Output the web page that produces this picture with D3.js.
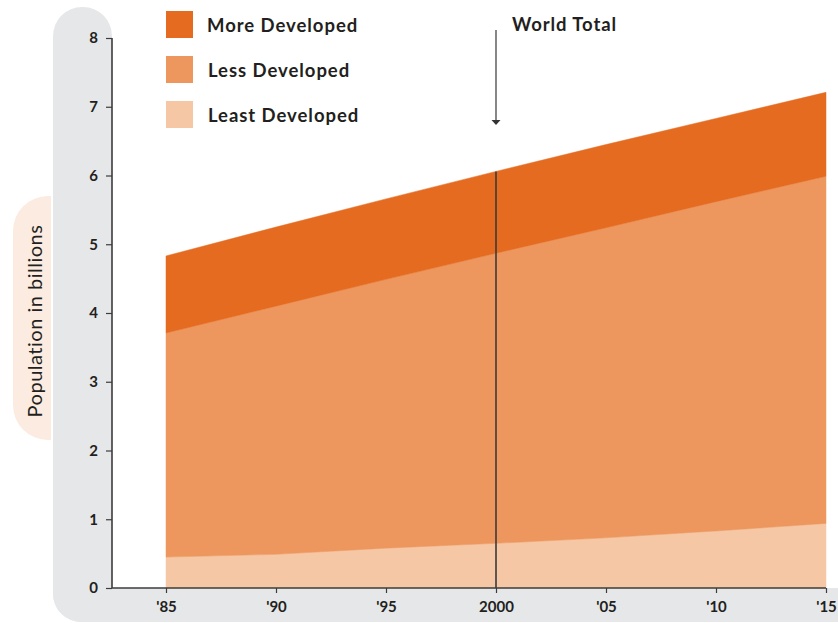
<!DOCTYPE html>
<html><head><meta charset="utf-8">
<script src="https://cdn.jsdelivr.net/npm/d3@7/dist/d3.min.js"></script>
<style>body{margin:0;background:#fff}svg{display:block}text{font-family:Lato,"Noto Sans",sans-serif;fill:#231f20}</style>
</head><body><svg id="c" width="838" height="623"></svg>
<script>
const years = [1985, 1990, 1995, 2000, 2005, 2010, 2015];
const leastDeveloped = [0.45, 0.49, 0.58, 0.65, 0.73, 0.83, 0.94];
const lessDeveloped = [3.26, 3.61, 3.91, 4.22, 4.51, 4.79, 5.05];
const moreDeveloped = [1.12, 1.15, 1.17, 1.19, 1.21, 1.21, 1.22];
const seriesNames = ["Least Developed", "Less Developed", "More Developed"];
const legendOrder = ["More Developed", "Less Developed", "Least Developed"];
const xTickValues = [1985, 1990, 1995, 2000, 2005, 2010, 2015];
const xTickLabels = ["'85", "'90", "'95", "2000", "'05", "'10", "'15"];
const yTickValues = [0, 1, 2, 3, 4, 5, 6, 7, 8];
const markerYear = 2000;

const colors = {"More Developed": "#e46b20", "Less Developed": "#ed975e", "Least Developed": "#f5c7a5"};
const svg = d3.select("#c");

// background shapes
svg.append("rect").attr("x", 53).attr("y", 7).attr("width", 59).attr("height", 615).attr("rx", 29).attr("fill", "#e6e7e9");
svg.append("rect").attr("x", 53).attr("y", 560).attr("width", 830).attr("height", 62).attr("rx", 28).attr("fill", "#e6e7e9");
svg.append("rect").attr("x", 112).attr("y", 0).attr("width", 726).attr("height", 588).attr("fill", "#fff");
svg.append("path").attr("d", "M51,196 L51,440 L48,440 A35,35 0 0 1 13,405 L13,231 A35,35 0 0 1 48,196 Z").attr("fill", "#fbebe0");

const x = d3.scaleLinear().domain([1985, 2015]).range([166, 826]);
const y = d3.scaleLinear().domain([0, 8]).range([588, 38]);

const table = years.map((yr, i) => ({year: yr, "Least Developed": leastDeveloped[i], "Less Developed": lessDeveloped[i], "More Developed": moreDeveloped[i]}));
const stack = d3.stack().keys(seriesNames)(table);
const area = d3.area().x(d => x(d.data.year)).y0(d => y(d[0])).y1(d => y(d[1]));
svg.append("g").selectAll("path").data(stack).join("path")
  .attr("d", area).attr("fill", d => colors[d.key]).attr("stroke", d => colors[d.key]).attr("stroke-width", 0.5);

// axes
const yAxis = d3.axisLeft(y).tickValues(yTickValues).tickSize(6).tickPadding(8).tickFormat(d3.format("d"));
const gy = svg.append("g").attr("transform", "translate(112,0)").call(yAxis);
gy.select(".domain").attr("stroke", "#3c3c3c").attr("stroke-width", 1.6).attr("d", `M0,${y(8)}V${y(0)}`);
gy.selectAll(".tick line").attr("stroke", "#3c3c3c").attr("stroke-width", 1.2);
gy.selectAll(".tick text").style("font-size", "15px").style("font-weight", "bold").attr("fill", "#231f20");

const xAxis = d3.axisBottom(x).tickValues(xTickValues).tickSize(5).tickPadding(8).tickFormat((d, i) => xTickLabels[i]);
const gx = svg.append("g").attr("transform", "translate(0,588)").call(xAxis);
gx.select(".domain").attr("stroke", "#3c3c3c").attr("stroke-width", 1.6).attr("d", `M112,0H${x(2015)}`);
gx.selectAll(".tick line").attr("stroke", "#3c3c3c").attr("stroke-width", 1.2);
gx.selectAll(".tick text").style("font-size", "15px").style("font-weight", "bold").attr("fill", "#231f20");

// world total marker
const idx = years.indexOf(markerYear);
const totalAt = leastDeveloped[idx] + lessDeveloped[idx] + moreDeveloped[idx];
svg.append("line").attr("x1", x(markerYear)).attr("x2", x(markerYear)).attr("y1", y(totalAt)).attr("y2", y(0))
  .attr("stroke", "#3a3a3a").attr("stroke-width", 1.6);
svg.append("line").attr("x1", x(markerYear)).attr("x2", x(markerYear)).attr("y1", 30).attr("y2", 121)
  .attr("stroke", "#555").attr("stroke-width", 1.4);
svg.append("path").attr("d", `M${x(markerYear)-4.5},120 L${x(markerYear)+4.5},120 L${x(markerYear)},125 Z`).attr("fill", "#333");
svg.append("text").attr("x", 512).attr("y", 31).text("World Total").style("font-size", "18.5px").style("font-weight", "bold").style("letter-spacing", "0.9px");

// legend
const lg = svg.append("g").selectAll("g").data(legendOrder).join("g").attr("transform", (d, i) => `translate(166,${11 + i * 45})`);
lg.append("rect").attr("width", 27).attr("height", 27).attr("fill", d => colors[d]);
lg.append("text").attr("x", (d, i) => i === 0 ? 41 : 42).attr("y", 20.5).text(d => d)
  .style("font-size", "18.5px").style("font-weight", "bold").style("letter-spacing", "0.95px");

// y label
svg.append("text").attr("transform", "translate(42,321) rotate(-90)").attr("text-anchor", "middle")
  .text("Population in billions").style("font-size", "20px").style("font-weight", "400").style("letter-spacing", "0.5px").attr("fill", "#333");
</script></body></html>
